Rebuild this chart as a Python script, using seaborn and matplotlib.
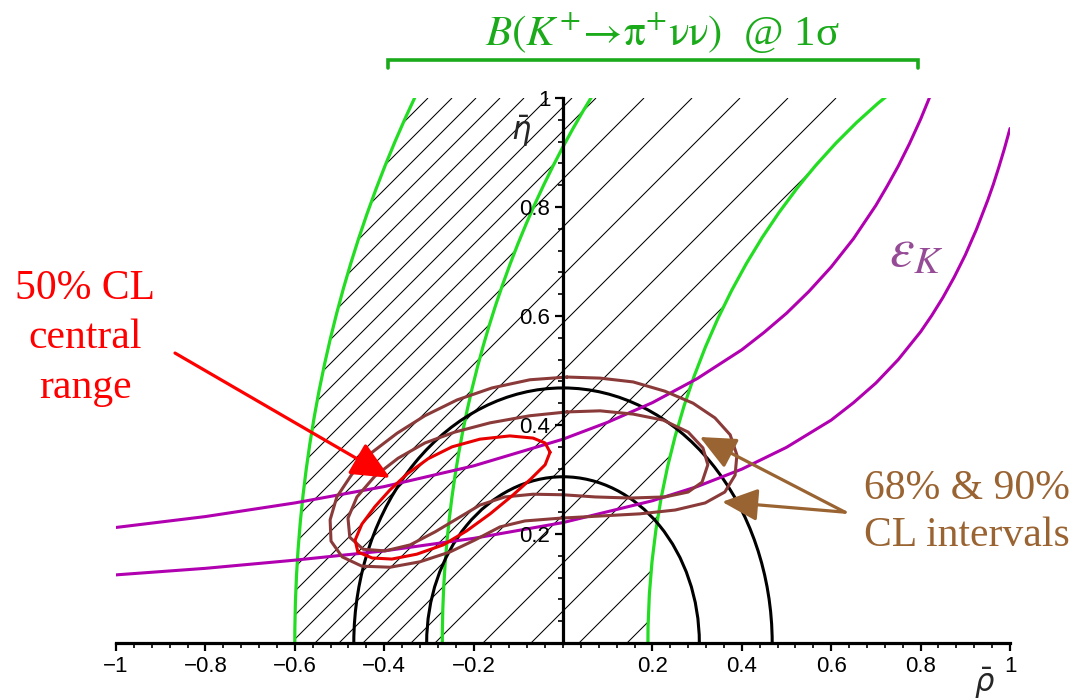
import numpy as np
import pandas as pd
import matplotlib
matplotlib.use("Agg")
import matplotlib.pyplot as plt
from matplotlib.patches import Arc, Circle
from matplotlib.ticker import MultipleLocator, FixedLocator, FixedFormatter
from matplotlib import font_manager
import seaborn as sns

# ------------------------------------------------------------------ data
x_ticks = [-1, -0.8, -0.6, -0.4, -0.2, 0.2, 0.4, 0.6, 0.8, 1]
x_tick_labels = ["\u22121", "\u22120.8", "\u22120.6", "\u22120.4", "\u22120.2",
                 "0.2", "0.4", "0.6", "0.8", "1"]
y_ticks = [0.2, 0.4, 0.6, 0.8, 1.0]
y_tick_labels = ["0.2", "0.4", "0.6", "0.8", "1"]

# B(K+ -> pi+ nu nu) @ 1 sigma : circles centred on the rho axis
pinunu_center = 1.4
pinunu_radii = [2.0, 1.67, 1.21]          # outer, central, inner

# R_b circles centred on the origin
rb_radii = [0.305, 0.468]

# epsilon_K hyperbola branches
epsk_low_rho = [-1.0, -0.8, -0.6, -0.4, -0.2, 0.0, 0.2, 0.3, 0.4, 0.5, 0.6, 0.65, 0.7, 0.75, 0.8,
                0.825, 0.85, 0.875, 0.9, 0.925, 0.95, 0.9625, 0.975, 0.9875, 1.0]
epsk_low_eta = [0.125, 0.137, 0.152, 0.169, 0.192, 0.221, 0.261, 0.287, 0.319, 0.359, 0.409, 0.441,
                0.477, 0.520, 0.571, 0.601, 0.634, 0.671, 0.712, 0.759, 0.812, 0.841, 0.873,
                0.907, 0.944]
epsk_up_rho = [-1.0, -0.8, -0.6, -0.4, -0.2, 0.0, 0.1, 0.2, 0.3, 0.4, 0.45, 0.5, 0.55, 0.6, 0.65,
               0.7, 0.725, 0.75, 0.775, 0.8, 0.83]
epsk_up_eta = [0.212, 0.232, 0.257, 0.287, 0.325, 0.374, 0.405, 0.441, 0.485, 0.538, 0.570, 0.605,
               0.645, 0.690, 0.742, 0.803, 0.838, 0.875, 0.916, 0.961, 1.021]

# 50 % CL central range
cl50_rho = [-0.029, -0.040, -0.067, -0.119, -0.186, -0.248, -0.302, -0.349, -0.387, -0.421, -0.450,
            -0.465, -0.459, -0.427, -0.383, -0.327, -0.268, -0.215, -0.163, -0.114, -0.072, -0.040]
cl50_eta = [0.350, 0.367, 0.376, 0.380, 0.374, 0.360, 0.338, 0.310, 0.281, 0.250, 0.218,
            0.189, 0.167, 0.156, 0.154, 0.163, 0.180, 0.206, 0.237, 0.270, 0.301, 0.327]

# 68 % CL interval
cl68_rho = [0.009, 0.083, 0.157, 0.224, 0.280, 0.313, 0.324, 0.311, 0.280, 0.228, 0.150, 0.072,
            0.000, -0.067, -0.130, -0.186, -0.235, -0.286, -0.342, -0.398, -0.447, -0.477, -0.481,
            -0.461, -0.421, -0.369, -0.309, -0.242, -0.163, -0.074]
cl68_eta = [0.424, 0.426, 0.420, 0.409, 0.387, 0.358, 0.327, 0.295, 0.277, 0.268, 0.266, 0.268,
            0.272, 0.273, 0.268, 0.253, 0.229, 0.204, 0.180, 0.169, 0.172, 0.194, 0.229,
            0.268, 0.306, 0.339, 0.367, 0.387, 0.404, 0.417]

# 90 % CL interval
cl90_rho = [0.009, 0.083, 0.157, 0.228, 0.291, 0.340, 0.374, 0.389, 0.385, 0.362, 0.318, 0.251,
            0.172, 0.083, -0.007, -0.085, -0.141, -0.197, -0.253, -0.320, -0.387, -0.450, -0.494,
            -0.519, -0.521, -0.506, -0.472, -0.427, -0.371, -0.309, -0.237, -0.159, -0.074]
cl90_eta = [0.488, 0.486, 0.479, 0.462, 0.440, 0.413, 0.382, 0.345, 0.308, 0.277, 0.257, 0.244,
            0.237, 0.233, 0.229, 0.224, 0.213, 0.189, 0.167, 0.149, 0.139, 0.141, 0.158,
            0.187, 0.226, 0.268, 0.310, 0.350, 0.385, 0.417, 0.446, 0.468, 0.483]

bracket_rho = [-0.391, 0.794]

# ------------------------------------------------------------------ style
sns.set_theme(style="white")
names = {f.name for f in font_manager.fontManager.ttflist}
tick_font = "Liberation Sans Narrow" if "Liberation Sans Narrow" in names else "Liberation Sans"
plt.rcParams["font.family"] = [tick_font, "DejaVu Sans"]
plt.rcParams["axes.unicode_minus"] = True

GREEN = "#22dd22"
PURPLE = "#b000b0"
BROWN = "#8b3a3a"
RED = "#e80000"
TXT_BROWN = "#9a6432"
TITLE_GREEN = "#1aaa1a"

W, H = 1081, 700
fig = plt.figure(figsize=(W / 100, H / 100), dpi=100)
fig.patch.set_facecolor("white")
ax_rect = [116 / W, 57 / H, 894 / W, 545 / H]
ax = fig.add_axes(ax_rect)
ax.set_xlim(-1, 1)
ax.set_ylim(0, 1)
ax.set_facecolor("white")
ax.set_axisbelow(False)

px_per_rho = W * ax_rect[2] / 2.0
px_per_eta = H * ax_rect[3] / 1.0
k = px_per_rho / px_per_eta      # slope (data) of a 45 degree line on screen


def hatch(spacing_px, phase, clip_radius, z):
    clip = Circle((pinunu_center, 0), clip_radius, transform=ax.transData)
    dc = spacing_px / px_per_rho
    c = -1 - 1 / k - 2 * dc + phase * dc
    while c < 1 + dc:
        r0, r1 = max(-1.0, c), min(1.0, c + 1 / k)
        if r1 > r0:
            ln, = ax.plot([r0, r1], [k * (r0 - c), k * (r1 - c)], color="black",
                          lw=0.75, zorder=z, solid_capstyle="butt")
            ln.set_clip_path(clip)
        c += dc


# extra hatching in the band between outer and central curve
hatch(48, 0.5, pinunu_radii[0], 1.0)
ax.add_patch(Circle((pinunu_center, 0), pinunu_radii[1], facecolor="white", edgecolor="none", zorder=1.1))
# hatching of the whole 1 sigma band
hatch(48, 0.0, pinunu_radii[0], 1.2)
ax.add_patch(Circle((pinunu_center, 0), pinunu_radii[2], facecolor="white", edgecolor="none", zorder=1.3))

# green K+ -> pi+ nu nu curves
for r in pinunu_radii:
    ax.add_patch(Arc((pinunu_center, 0), 2 * r, 2 * r, theta1=90, theta2=180,
                     color=GREEN, lw=2.3, zorder=3))

# black R_b circles
for r in rb_radii:
    ax.add_patch(Arc((0, 0), 2 * r, 2 * r, theta1=0, theta2=180, color="black", lw=2.2, zorder=4))

# epsilon_K
sns.lineplot(x=epsk_low_rho, y=epsk_low_eta, sort=False, estimator=None, ax=ax,
             color=PURPLE, lw=2.2, zorder=5)
sns.lineplot(x=epsk_up_rho, y=epsk_up_eta, sort=False, estimator=None, ax=ax,
             color=PURPLE, lw=2.2, zorder=5)


# CL contours (closed)
def closed(a):
    return list(a) + [a[0]]


sns.lineplot(x=closed(cl90_rho), y=closed(cl90_eta), sort=False, estimator=None, ax=ax,
             color=BROWN, lw=2.2, zorder=6)
sns.lineplot(x=closed(cl68_rho), y=closed(cl68_eta), sort=False, estimator=None, ax=ax,
             color=BROWN, lw=2.2, zorder=6)
sns.lineplot(x=closed(cl50_rho), y=closed(cl50_eta), sort=False, estimator=None, ax=ax,
             color=RED, lw=2.2, zorder=7)

# axes styling
for s in ["top", "right"]:
    ax.spines[s].set_visible(False)
ax.spines["left"].set_position(("data", 0))
ax.spines["bottom"].set_position(("data", 0))
for s in ["left", "bottom"]:
    ax.spines[s].set_linewidth(2.3)
    ax.spines[s].set_color("black")
    ax.spines[s].set_zorder(8)
ax.xaxis.set_zorder(8)
ax.yaxis.set_zorder(8)
ax.xaxis.set_major_locator(FixedLocator(x_ticks))
ax.xaxis.set_major_formatter(FixedFormatter(x_tick_labels))
ax.yaxis.set_major_locator(FixedLocator(y_ticks))
ax.yaxis.set_major_formatter(FixedFormatter(y_tick_labels))
ax.xaxis.set_minor_locator(MultipleLocator(0.04))
ax.yaxis.set_minor_locator(MultipleLocator(0.04))
ax.tick_params(which="both", direction="out", colors="black", bottom=True, left=True)
ax.tick_params(which="major", length=6, width=1.6, labelsize=16, pad=3)
ax.tick_params(which="minor", length=3.5, width=1.2)
ax.set_xlabel("")
ax.set_ylabel("")
ax.grid(False)

# axis symbols
fig.text(521 / W, 1 - 131 / H, r"$\bar{\eta}$", fontsize=22, ha="center", va="center",
         math_fontfamily="dejavusans")
fig.text(985 / W, 1 - 683 / H, r"$\bar{\rho}$", fontsize=22, ha="center", va="center",
         math_fontfamily="dejavusans")

# title and bracket
fig.text(662 / W, 1 - 33 / H, r"$B(K^{+}\!\rightarrow\!\mathrm{\pi^{+}\nu\nu})$  @ 1σ",
         fontsize=31, ha="center", va="center", color=TITLE_GREEN,
         family=["Liberation Serif", "DejaVu Serif"], math_fontfamily="stix")
ax.plot([bracket_rho[0], bracket_rho[0], bracket_rho[1], bracket_rho[1]],
        [1.055, 1.07, 1.07, 1.055], color=TITLE_GREEN, lw=2.6, clip_on=False,
        solid_joinstyle="miter", zorder=9)

# epsilon_K label
fig.text(889 / W, 1 - 266 / H, r"$\varepsilon_K$", fontsize=40, ha="left", va="baseline",
         color="#964b96", math_fontfamily="stix")

# annotations
fig.text(85 / W, 1 - 338 / H, "50% CL\ncentral\nrange", fontsize=30, color="#ff0000",
         ha="center", va="center", multialignment="center", linespacing=1.38,
         family=["Liberation Serif", "DejaVu Serif"])
fig.text(967 / W, 1 - 512 / H, "68% & 90%\nCL intervals", fontsize=30, color=TXT_BROWN,
         ha="center", va="center", multialignment="center", linespacing=1.3,
         family=["Liberation Serif", "DejaVu Serif"])

ax.annotate("", xy=(-0.387, 0.303), xytext=(-0.868, 0.532),
            arrowprops=dict(arrowstyle="-|>,head_length=1.2,head_width=0.55", mutation_scale=20,
                            color="#ff0000", lw=2.3, shrinkA=0, shrinkB=0),
            annotation_clip=False, zorder=10)
for tip in [(0.306, 0.378), (0.356, 0.259)]:
    ax.annotate("", xy=tip, xytext=(0.631, 0.240),
                arrowprops=dict(arrowstyle="-|>,head_length=1.1,head_width=0.5", mutation_scale=20,
                                color=TXT_BROWN, lw=2.3, shrinkA=0, shrinkB=0),
                annotation_clip=False, zorder=10)

fig.savefig("out.png", dpi=100, facecolor="white")
